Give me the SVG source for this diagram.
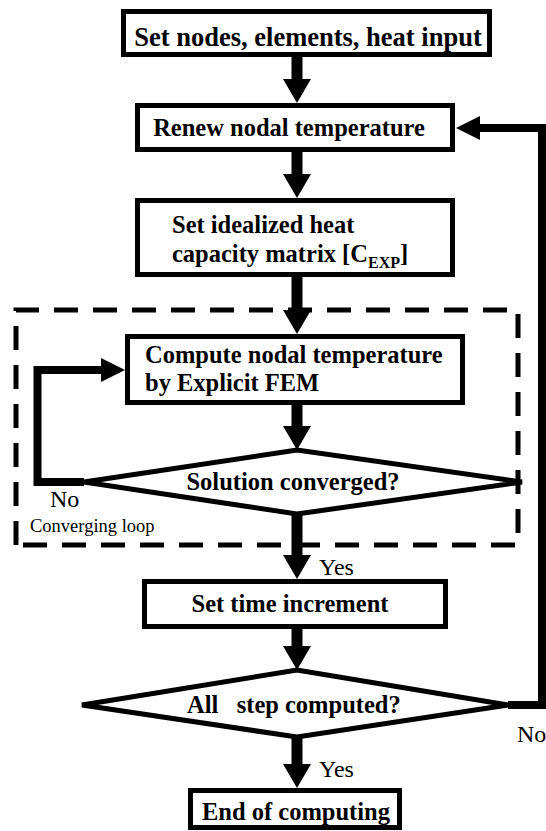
<svg xmlns="http://www.w3.org/2000/svg" width="546" height="831" viewBox="0 0 546 831">
  <defs>
    <style>
      .box { fill: #ffffff; stroke: #000000; stroke-width: 5; }
      .dia { fill: #ffffff; stroke: #000000; stroke-width: 5; stroke-linejoin: miter; }
      text { font-family: 'Liberation Serif', 'DejaVu Serif', serif; fill: #000000; }
      .lbl { font-weight: bold; font-size: 24.5px; }
      .big { font-size: 26.5px; }
      .sub { font-size: 16px; }
      .note { font-size: 24px; }
      .small { font-size: 18.5px; }
      .flow { fill: none; stroke: #000000; stroke-width: 11; marker-end: url(#headBig); }
      .loop { fill: none; stroke: #000000; stroke-width: 8; stroke-linejoin: miter; }
      .frame { fill: none; stroke: #000000; stroke-width: 5; stroke-dasharray: 24 15; }
    </style>
    <marker id="headBig" markerUnits="userSpaceOnUse" markerWidth="26" markerHeight="30" viewBox="0 -15 26 30" refX="0" refY="0" orient="auto">
      <path d="M0,-14 L24,0 L0,14 Z" fill="#000000"/>
    </marker>
    <marker id="headLoop" markerUnits="userSpaceOnUse" markerWidth="26" markerHeight="28" viewBox="0 -14 26 28" refX="0" refY="0" orient="auto">
      <path d="M0,-12 L24,0 L0,12 Z" fill="#000000"/>
    </marker>
  </defs>

  <!-- dashed frame around the converging loop -->
  <path class="frame" d="M16,545 L16,310 L518,310 L518,545 Z"/>

  <!-- connectors -->
  <g id="connectors">
    <path class="flow" d="M297,57 V79"/>
    <path class="flow" d="M297,152 V174"/>
    <path class="flow" d="M297,277 V310"/>
    <path class="flow" d="M297,405 V426"/>
    <path class="flow" d="M297,514 V555"/>
    <path class="flow" d="M297,629 V646"/>
    <path class="flow" d="M297,737 V764"/>
    <!-- converging loop: back to the explicit FEM step -->
    <path class="loop" d="M84,482 H37.5 V370 H101" marker-end="url(#headLoop)"/>
    <!-- time step loop: back to renewing temperatures -->
    <path class="loop" d="M508,705 H542 V128 H480" marker-end="url(#headLoop)"/>
  </g>

  <g id="setup">
    <rect class="box" x="123.5" y="11.5" width="366" height="43"/>
    <text class="lbl big" x="308" y="46" text-anchor="middle">Set nodes, elements, heat input</text>
  </g>

  <g id="renew">
    <rect class="box" x="137.5" y="105.5" width="315" height="44"/>
    <text class="lbl" x="289" y="136" text-anchor="middle">Renew nodal temperature</text>
  </g>

  <g id="capacity">
    <rect class="box" x="137.5" y="200.5" width="315" height="74"/>
    <text class="lbl" x="172" y="233">Set idealized heat</text>
    <text class="lbl" x="172" y="262">capacity matrix [C<tspan class="sub" dy="6">EXP</tspan><tspan dy="-6">]</tspan></text>
  </g>

  <g id="compute">
    <rect class="box" x="127.5" y="336.5" width="335" height="66"/>
    <text class="lbl" x="145" y="363">Compute nodal temperature</text>
    <text class="lbl" x="145" y="391">by Explicit FEM</text>
  </g>

  <g id="converged">
    <polygon class="dia" points="84,482 297,450 522,482 297,514"/>
    <text class="lbl" x="293" y="490" text-anchor="middle">Solution converged?</text>
  </g>

  <g id="increment">
    <rect class="box" x="144.5" y="581.5" width="301" height="45"/>
    <text class="lbl" x="290" y="612" text-anchor="middle">Set time increment</text>
  </g>

  <g id="allsteps">
    <polygon class="dia" points="82,705 297,670 508,705 297,737"/>
    <text class="lbl" x="187" y="713" xml:space="preserve" style="white-space:pre">All   step computed?</text>
  </g>

  <g id="end">
    <rect class="box" x="190.5" y="790.5" width="209" height="37"/>
    <text class="lbl" x="202" y="820">End of computing</text>
  </g>

  <!-- branch labels -->
  <text class="note" x="50" y="507">No</text>
  <text class="small" x="30" y="532">Converging loop</text>
  <text class="note" x="319" y="575">Yes</text>
  <text class="note" x="517" y="742">No</text>
  <text class="note" x="319" y="777">Yes</text>
</svg>
